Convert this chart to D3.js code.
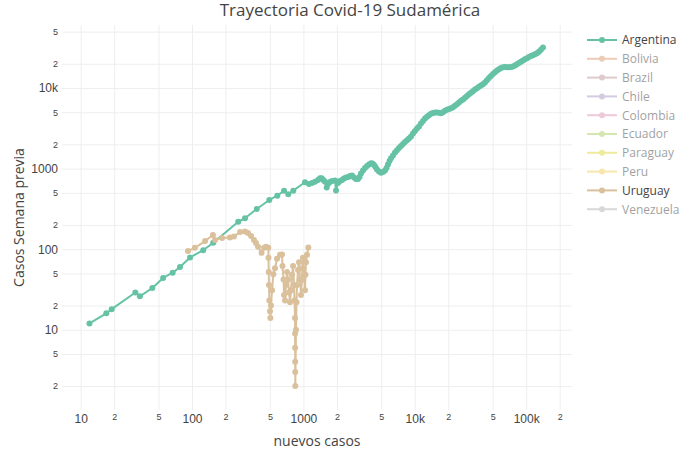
<!DOCTYPE html>
<html>
<head>
<meta charset="utf-8">
<script src="https://cdn.jsdelivr.net/npm/d3@7"></script>
<style>
  body { margin: 0; background: #fff; }
  svg { font-family: "Open Sans", verdana, arial, sans-serif; }
  .grid line { stroke: #eee; stroke-width: 1px; }
  .grid .domain { display: none; }
  .axis .domain { display: none; }
  .axis line { display: none; }
  .axis text { fill: #444; }
</style>
</head>
<body>
<svg id="chart" width="700" height="450"></svg>
<script>
/* ---------- data ---------- */
const countries = ["Argentina", "Bolivia", "Brazil", "Chile", "Colombia",
  "Ecuador", "Paraguay", "Peru", "Uruguay", "Venezuela"];
const countryColors = ["#66c2a5", "#db9971", "#be989c", "#ab99c8", "#e093b7",
  "#adcf60", "#e1d93b", "#f3d05c", "#dac09b", "#b3b3b3"];
const shownCountries = ["Argentina", "Uruguay"];

// Argentina: total cases vs cases in the previous week
const argCases = [12, 17, 19, 31, 34, 44, 55, 67, 78, 96,
  126, 155, 260, 299, 381, 494, 583, 670, 731, 811,
  1033, 1122, 1195, 1271, 1352, 1409, 1460, 1510, 1563, 1619,
  1663, 1733, 1806, 1922, 1963, 2045, 2132, 2221, 2312, 2412,
  2530, 2620, 2731, 2847, 2965, 3091, 3189, 3289, 3428, 3573,
  3724, 3881, 4045, 4173, 4303, 4439, 4579, 4771, 4973, 5183,
  5401, 5572, 5746, 5929, 6116, 6374, 6643, 6922, 7215, 7518,
  7837, 8166, 8511, 8869, 9246, 9634, 10040, 10465, 10906, 11366,
  11846, 12350, 12870, 13415, 13978, 14570, 15185, 15825, 16490, 17190,
  17915, 18670, 19455, 20280, 21135, 22025, 22955, 23920, 24935, 25985,
  27085, 28225, 29420, 30655, 31955, 33300, 34705, 36165, 37695, 39290,
  40940, 42675, 44475, 46355, 48305, 50350, 52475, 54700, 57005, 59420,
  61920, 64540, 67255, 70100, 73065, 76145, 79360, 82695, 86185, 89820,
  93610, 97545, 101670, 105950, 110420, 115080, 119950, 125000, 130300, 135800,
  141500];
const argPrevWeek = [12, 16, 18, 29, 26, 33, 44, 51, 60, 79,
  97, 120, 219, 242, 315, 408, 461, 532, 480, 532,
  676, 644, 663, 688, 722, 758, 758, 722, 688, 583,
  644, 682, 702, 712, 535, 663, 702, 722, 754, 776,
  787, 809, 821, 776, 743, 743, 787, 869, 947, 1017,
  1077, 1124, 1163, 1157, 1108, 1047, 975, 920, 889, 907,
  947, 1017, 1124, 1243, 1342, 1454, 1585, 1692, 1801, 1908,
  2020, 2138, 2245, 2357, 2502, 2726, 2928, 3144, 3329, 3627,
  3895, 4183, 4392, 4598, 4786, 4896, 4953, 4966, 4924, 4868,
  4995, 5213, 5364, 5488, 5615, 5778, 6014, 6278, 6609, 6938,
  7200, 7557, 7954, 8377, 8744, 9126, 9553, 9942, 10350, 10740,
  11150, 11700, 12500, 13310, 14090, 14920, 15710, 16490, 17120, 17710,
  18070, 18230, 18120, 18070, 18170, 18480, 19020, 19740, 20430, 21140,
  21940, 22770, 23430, 24250, 24950, 25530, 26190, 27030, 28130, 29790,
  31810];

// Uruguay
const uruCases = [92, 106, 131, 154, 161, 186, 219, 238, 270, 299,
  318, 339, 360, 375, 391, 421, 443, 462, 484, 486,
  488, 491, 494, 501, 505, 512, 523, 537, 556, 579,
  616, 643, 649, 663, 670, 684, 698, 713, 728, 743,
  758, 774, 790, 807, 824, 832, 841, 842, 843, 844,
  845, 846, 858, 867, 876, 895, 913, 933, 951, 971,
  982, 991, 1012, 1033, 1044, 1054, 1077, 1107];
const uruPrevWeek = [95, 104, 126, 150, 130, 138, 140, 144, 163, 166,
  159, 146, 130, 119, 107, 90, 104, 107, 104, 78,
  52, 36, 23, 17, 14, 20, 31, 49, 58, 76,
  85, 86, 62, 42, 27, 23, 36, 52, 42, 29,
  22, 31, 48, 62, 36, 23, 14, 9, 6, 4,
  3, 2, 10, 22, 36, 55, 69, 42, 27, 42,
  58, 78, 48, 31, 48, 69, 85, 105];

const xTickValues = [10, 20, 50, 100, 200, 500, 1000, 2000, 5000, 10000, 20000, 50000, 100000, 200000];
const xTickLabels = ["10", "2", "5", "100", "2", "5", "1000", "2", "5", "10k", "2", "5", "100k", "2"];
const yTickValues = [2, 5, 10, 20, 50, 100, 200, 500, 1000, 2000, 5000, 10000, 20000, 50000];
const yTickLabels = ["2", "5", "10", "2", "5", "100", "2", "5", "1000", "2", "5", "10k", "2", "5"];

/* ---------- layout ---------- */
const svg = d3.select("#chart");
const margin = { top: 25, right: 128, bottom: 40, left: 62 };
const innerW = 700 - margin.left - margin.right;
const innerH = 450 - margin.top - margin.bottom;

svg.append("rect").attr("width", 700).attr("height", 450).attr("fill", "#fff");

const g = svg.append("g").attr("transform", `translate(${margin.left},${margin.top})`);

const x = d3.scaleLog().domain([6.8, 258000]).range([0, innerW]);
const y = d3.scaleLog().domain([1.01, 60500]).range([innerH, 0]);

const isMajor = v => Math.abs(Math.log10(v) - Math.round(Math.log10(v))) < 1e-9;

// grid
g.append("g").attr("class", "grid")
  .attr("transform", `translate(0,${innerH})`)
  .call(d3.axisBottom(x).tickValues(xTickValues).tickSize(-innerH).tickFormat(""));
g.append("g").attr("class", "grid")
  .call(d3.axisLeft(y).tickValues(yTickValues).tickSize(-innerW).tickFormat(""));

// tick labels (minor 2/5 labels drawn smaller)
const xAxisG = g.append("g").attr("class", "axis")
  .attr("transform", `translate(0,${innerH})`)
  .call(d3.axisBottom(x).tickValues(xTickValues).tickSize(0).tickPadding(4)
    .tickFormat((d, i) => xTickLabels[i]));
xAxisG.selectAll("text").style("font-size", d => isMajor(d) ? "12px" : "9px");

const yAxisG = g.append("g").attr("class", "axis")
  .call(d3.axisLeft(y).tickValues(yTickValues).tickSize(0).tickPadding(4)
    .tickFormat((d, i) => yTickLabels[i]));
yAxisG.selectAll("text").style("font-size", d => isMajor(d) ? "12px" : "9px");

g.append("text")
  .attr("x", innerW / 2).attr("y", innerH + 36)
  .attr("text-anchor", "middle").attr("fill", "#444").style("font-size", "14px")
  .text("nuevos casos");

g.append("text")
  .attr("transform", "rotate(-90)")
  .attr("x", -innerH / 2).attr("y", -38)
  .attr("text-anchor", "middle").attr("fill", "#444").style("font-size", "14px")
  .text("Casos Semana previa");

svg.append("text")
  .attr("x", 350).attr("y", 16)
  .attr("text-anchor", "middle").attr("fill", "#444").style("font-size", "17px")
  .text("Trayectoria Covid-19 Sudamérica");

/* ---------- traces ---------- */
const series = [
  { name: "Argentina", cases: argCases, prev: argPrevWeek },
  { name: "Uruguay", cases: uruCases, prev: uruPrevWeek }
];

const lineGen = d3.line().x(d => x(d[0])).y(d => y(d[1]));

series.forEach(s => {
  const color = countryColors[countries.indexOf(s.name)];
  const pts = s.cases.map((c, i) => [c, s.prev[i]]);
  const tg = g.append("g");
  tg.append("path").datum(pts)
    .attr("d", lineGen)
    .attr("fill", "none").attr("stroke", color).attr("stroke-width", 2)
    .attr("stroke-linejoin", "round");
  tg.selectAll("circle").data(pts).join("circle")
    .attr("cx", d => x(d[0])).attr("cy", d => y(d[1]))
    .attr("r", 3).attr("fill", color);
});

/* ---------- legend ---------- */
const legend = svg.append("g").attr("transform", "translate(582,40)");
countries.forEach((c, i) => {
  const item = legend.append("g")
    .attr("transform", `translate(0,${i * 18.8})`)
    .attr("opacity", shownCountries.includes(c) ? 1 : 0.5);
  item.append("line").attr("x1", 5).attr("x2", 35)
    .attr("stroke", countryColors[i]).attr("stroke-width", 2);
  item.append("circle").attr("cx", 20).attr("r", 3).attr("fill", countryColors[i]);
  item.append("text").attr("x", 40).attr("y", 4.3)
    .attr("fill", "#444").style("font-size", "12px").text(c);
});
</script>
</body>
</html>
